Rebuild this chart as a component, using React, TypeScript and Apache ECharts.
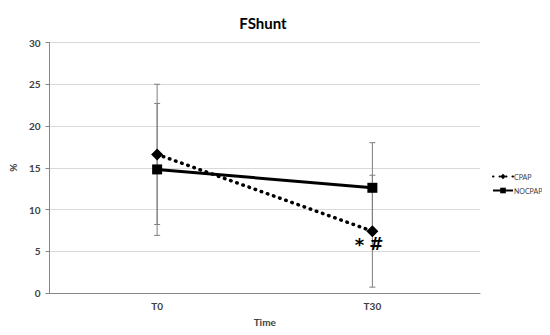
import React, { useEffect, useRef } from "react";
import * as echarts from "echarts";

const categories = ["T0", "T30"];
const cpap = [16.6, 7.4];
const cpapLow = [8.2, 0.7];
const cpapHigh = [25.0, 14.1];
const nocpap = [14.8, 12.6];
const nocpapLow = [6.9, 7.2];
const nocpapHigh = [22.7, 18.0];
const yTicks = { min: 0, max: 30, interval: 5 };

export default function App() {
  const ref = useRef<HTMLDivElement>(null);
  useEffect(() => {
    if (!ref.current) return;
    const chart = echarts.init(ref.current, undefined, { renderer: "svg" });
    const errData: number[][] = [];
    categories.forEach((_, i) => {
      errData.push([i, cpapLow[i], cpapHigh[i]]);
      errData.push([i, nocpapLow[i], nocpapHigh[i]]);
    });
    const font = "Lato, 'Open Sans', sans-serif";
    chart.setOption({
      animation: false,
      backgroundColor: "#ffffff",
      title: {
        text: "FShunt",
        left: 258,
        textAlign: "center",
        top: 10,
        textStyle: { fontSize: 15, fontWeight: "bold", color: "#000", fontFamily: font },
      },
      legend: {
        orient: "vertical",
        left: 492,
        top: 173,
        padding: 0,
        itemWidth: 20,
        itemHeight: 7,
        itemGap: 7,
        textStyle: { fontSize: 7, color: "#404040", fontFamily: font, padding: [0, 0, 0, -4] },
        data: ["CPAP", "NOCPAP"],
      },
      grid: { left: 43, right: 70, top: 42.5, bottom: 42, containLabel: false },
      xAxis: {
        type: "category",
        data: categories,
        boundaryGap: true,
        name: "Time",
        nameLocation: "middle",
        nameGap: 24,
        nameTextStyle: { fontSize: 10, fontWeight: "bold", color: "#404040", fontFamily: font },
        axisLine: { lineStyle: { color: "#868686" } },
        axisTick: { show: false },
        axisLabel: { fontSize: 10, fontWeight: "bold", color: "#404040", margin: 8, fontFamily: font },
      },
      yAxis: {
        type: "value",
        min: yTicks.min,
        max: yTicks.max,
        interval: yTicks.interval,
        name: "%",
        nameLocation: "middle",
        nameGap: 28,
        nameRotate: 90,
        nameTextStyle: { fontSize: 10, fontWeight: "bold", color: "#404040", fontFamily: font },
        axisLine: { show: true, lineStyle: { color: "#868686" } },
        axisTick: { show: true, length: 4, lineStyle: { color: "#868686" } },
        axisLabel: { fontSize: 10, fontWeight: "bold", color: "#404040", margin: 9, fontFamily: font },
        splitLine: { lineStyle: { color: "#d9d9d9", width: 1 } },
      },
      series: [
        {
          name: "errorbars",
          type: "custom",
          z: 1,
          data: errData,
          renderItem: (params: any, api: any) => {
            const x = api.value(0);
            const lo = api.coord([x, api.value(1)]);
            const hi = api.coord([x, api.value(2)]);
            const w = 3;
            const style = { stroke: "#7f7f7f", lineWidth: 1 };
            return {
              type: "group",
              children: [
                { type: "line", shape: { x1: hi[0], y1: hi[1], x2: lo[0], y2: lo[1] }, style },
                { type: "line", shape: { x1: hi[0] - w, y1: hi[1], x2: hi[0] + w, y2: hi[1] }, style },
                { type: "line", shape: { x1: lo[0] - w, y1: lo[1], x2: lo[0] + w, y2: lo[1] }, style },
              ],
            };
          },
        },
        {
          name: "NOCPAP",
          type: "line",
          z: 3,
          data: nocpap,
          symbol: "rect",
          symbolSize: 10,
          lineStyle: { color: "#000", width: 3, type: "solid" },
          itemStyle: { color: "#000" },
        },
        {
          name: "CPAP",
          type: "line",
          z: 4,
          data: cpap,
          symbol: "diamond",
          symbolSize: 12,
          lineStyle: { color: "#000", width: 3.5, type: [0.5, 6], cap: "round" },
          itemStyle: { color: "#000" },
        },
        {
          name: "annotations",
          type: "custom",
          z: 5,
          data: [[1, cpap[1]]],
          renderItem: (params: any, api: any) => {
            const p = api.coord([api.value(0), api.value(1)]);
            return {
              type: "group",
              children: [
                {
                  type: "text",
                  style: { text: "*", x: p[0] - 13, y: p[1] + 13, fontSize: 18, fontWeight: "bold", fill: "#000", align: "center", verticalAlign: "middle", fontFamily: "DejaVu Sans" },
                },
                {
                  type: "text",
                  style: { text: "#", x: p[0] + 4, y: p[1] + 13, fontSize: 17, fontWeight: "bold", fill: "#000", align: "center", verticalAlign: "middle", fontFamily: "DejaVu Sans" },
                },
              ],
            };
          },
        },
      ],
    });
    return () => chart.dispose();
  }, []);
  return <div ref={ref} style={{ width: 550, height: 335, margin: -8 }} />;
}
